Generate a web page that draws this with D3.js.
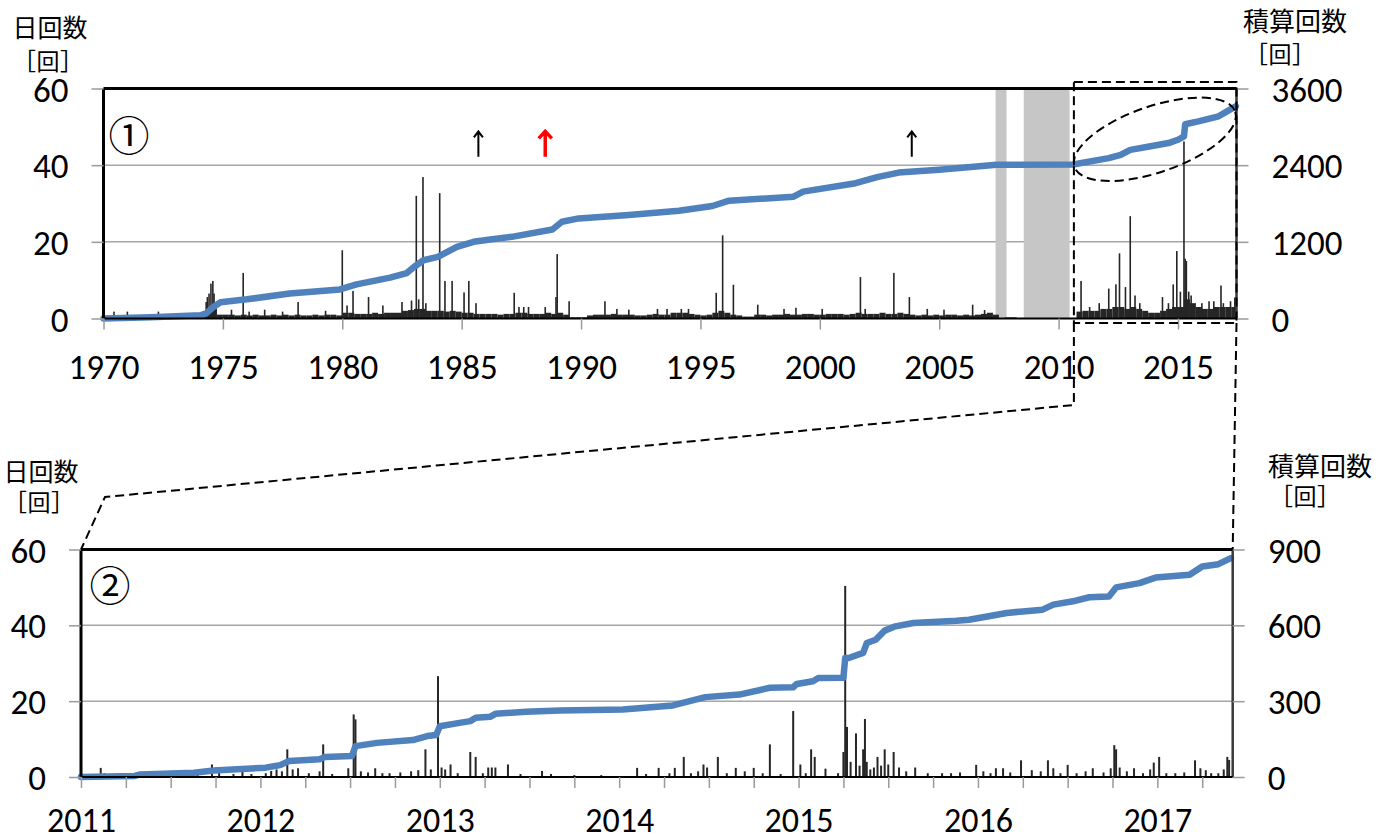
<!DOCTYPE html>
<html><head><meta charset="utf-8">
<script src="https://cdn.jsdelivr.net/npm/d3@7"></script>
<style>
body{margin:0;background:#fff}
text{font-family:Carlito,Lato,"Liberation Sans",sans-serif;fill:#000}
.jp{font-family:"Noto Sans CJK JP",sans-serif}
</style>
</head><body>
<svg id="c" width="1388" height="840"></svg>
<script>
// ---------------- DATA ----------------
// Panel ① : 1970-2017
const yearTicks1 = [1970,1975,1980,1985,1990,1995,2000,2005,2010,2015];
const leftTicks = [0,20,40,60];
const rightTicks1 = [0,1200,2400,3600];
const rightTicks2 = [0,300,600,900];
const yearTicks2 = [2011,2012,2013,2014,2015,2016,2017];

// no-observation periods (shaded)
const gapStart = [2007.36, 2008.54];
const gapEnd   = [2007.82, 2010.46];

// quarterly background level of daily counts, 1970Q1 ... 2017Q2
const floor1 = [
 0,0,0,0, 0,0,0,0, 0,0,0,0, 0,0,0,0.3,
 0.5,1.5,2.5,1, 1,1,0.8,1, 0.8,1,0.8,0.8, 1,0.8,1,0.8, 1,0.8,0.8,1, 0.8,1,1,0.8,
 1.5,1.5,1.2,1.2, 1.2,1.5,1.2,1.5, 1.5,1.5,2,2.2, 2.5,2.5,2,2, 2,1.8,2,1.8,
 1.5,1.5,1.2,1.2, 1.2,1.2,1,1.2, 1.2,1.5,1.5,1.2, 1.2,1.2,1.5,1.2, 1.5,1,0.3,0.3,
 0.3,0.8,1,1, 1,1.2,1,1, 1,0.8,0.8,1, 1.2,1,1,1.5, 1.5,1.5,1.2,1,
 0.8,1,1.5,2, 1.5,1,0.8,0.5, 0.5,1,1,0.8, 1,1,1.2,1, 1,1.2,1.2,1,
 1,1.2,1.2,1.2, 1,1.2,1.5,1.2, 1.2,1.2,1.5,1.2, 1.2,1.5,1.2,1, 0.8,1,0.8,1,
 0.8,1,1,0.8, 1,0.8,1,1.2, 1.5,1,0,0.3, 0.3,0,0,0, 0,0,0,0,
 0,0,0,1.8, 2,2,2,2.5, 2.5,3,3,2.5, 3,2.5,2,1.5, 1.5,2,2.5,3,
 3,5,4,3, 2.5,2.5,3,3, 3,3
];
// individual daily spikes [year, count]
const spikes1 = [
 [1970.44,1.8],[1971.0,1.8],[1972.3,1.8],
 [1974.3,4.3],[1974.35,5.6],[1974.42,6.5],[1974.5,9.1],[1974.58,9.8],[1974.63,6.5],[1974.7,3],
 [1975.36,2.3],[1975.85,11.9],[1976.1,1.8],[1976.75,2.3],[1977.5,1.8],[1978.15,4.3],[1979.3,2],
 [1980.0,17.8],[1980.2,3.4],[1980.45,7.2],[1981.1,5.6],[1981.7,3.4],[1982.5,4.3],[1982.9,4.7],
 [1983.1,32],[1983.2,5],[1983.38,36.9],[1983.5,4],[1984.08,32.7],[1984.3,9.8],[1984.6,9.8],
 [1985.1,6.8],[1985.3,9.8],[1985.6,4],
 [1987.2,6.7],[1987.4,3],[1987.6,3],[1987.8,3],[1988.5,3],[1988.95,5.6],[1989.0,16.8],[1989.5,4.5],
 [1991.0,4.5],[1991.5,2.5],[1992.0,2.3],[1993.2,2.5],[1993.6,2.5],[1994.2,2.5],[1994.5,2.5],
 [1995.66,6.7],[1995.93,21.7],[1996.38,8.8],[1997.4,3.6],[1998.5,2.5],[1999.0,2.8],[2000.1,2.5],
 [2001.7,10.8],[2001.9,2.5],[2003.1,11.9],[2003.75,5.6],[2004.5,2.5],[2005.2,2.3],[2006.4,3.6],[2006.9,2.2],
 [2010.94,9.8],[2011.3,3],[2011.7,4],[2012.1,7.8],[2012.4,8.9],[2012.55,17],[2012.8,8.2],[2013.0,26.7],
 [2013.2,6],[2013.4,4],[2014.35,5.6],[2014.6,4],[2014.8,8.9],[2014.95,17.6],[2015.1,7],[2015.25,46.2],
 [2015.3,15.6],[2015.35,15],[2015.45,7],[2015.55,6],[2016.0,4],[2016.3,4.5],[2016.5,4.5],[2016.8,8.6],
 [2016.9,4],[2017.2,4.5],[2017.38,5.5]
];
// cumulative count [year, total]
const cum1 = [
 [1970,0],[1972,20],[1974.05,50],[1974.3,80],[1974.6,180],[1974.9,255],[1976,300],[1977.8,390],
 [1979.9,455],[1980.6,534],[1982.0,640],[1982.7,712],[1983.0,806],[1983.4,912],[1984.0,964],
 [1984.8,1121],[1985.5,1200],[1986.2,1237],[1987.1,1278],[1988.8,1394],[1989.2,1514],[1989.9,1567],
 [1992.0,1619],[1994.1,1687],[1995.5,1761],[1996.2,1844],[1998.9,1907],[1999.3,1986],[2001.5,2117],
 [2002.4,2212],[2003.3,2284],[2005.0,2327],[2007.4,2405],[2010.6,2410],[2012.1,2510],[2012.6,2560],
 [2013.0,2640],[2013.8,2693],[2014.6,2746],[2015.0,2798],[2015.25,2850],[2015.3,3040],[2015.85,3086],
 [2016.7,3165],[2017.0,3230],[2017.42,3322]
];
// annotation arrows (year positions) and colours
const arrowYears = [1985.7, 1988.5, 2003.85];
const arrowColors = ["#000000", "#ff0000", "#000000"];

// Panel ② : 2011-2017 detail
const bars2 = [
 [2011.02,0.5],[2011.06,0.8],[2011.11,2.4],[2011.13,1],[2011.3,1],[2011.42,0.8],[2011.5,0.8],[2011.58,0.5],
 [2011.65,1],[2011.73,3.3],[2011.77,1.2],[2011.85,0.8],[2011.9,1.5],[2011.95,0.8],
 [2012.03,1],[2012.06,1.6],[2012.09,2],[2012.12,1.5],[2012.15,7.3],[2012.18,2],[2012.21,2.3],[2012.27,1],
 [2012.33,1.5],[2012.35,8.6],[2012.4,0.8],[2012.49,2.3],[2012.52,16.5],[2012.53,15.2],[2012.56,1.5],
 [2012.6,1.2],[2012.64,2.3],[2012.68,1],[2012.72,1],[2012.78,1.2],[2012.84,1.5],[2012.88,1.8],[2012.92,7.3],
 [2012.95,2],[2012.99,26.6],[2013.01,2.5],[2013.03,2],[2013.06,3.3],[2013.1,1],[2013.17,6.6],[2013.2,5.3],
 [2013.24,1],[2013.27,2.5],[2013.29,2.5],[2013.31,2.5],[2013.38,3.3],[2013.45,0.8],[2013.57,1.6],
 [2013.62,0.8],[2013.75,0.5],[2013.9,0.5],
 [2014.1,2.4],[2014.15,0.8],[2014.22,2.4],[2014.28,1],[2014.31,2.4],[2014.36,5.3],[2014.4,1],[2014.44,1.5],
 [2014.47,3.3],[2014.49,2.5],[2014.55,5.3],[2014.6,1],[2014.65,2.4],[2014.7,1.5],[2014.75,2.4],[2014.8,1],
 [2014.84,8.6],[2014.9,0.8],[2014.97,17.4],[2015.01,3.3],[2015.04,1],[2015.07,7.3],[2015.09,5.3],
 [2015.15,2.2],[2015.22,1],[2015.25,6.6],[2015.26,50.4],[2015.27,13.2],[2015.29,4],[2015.32,11.5],
 [2015.34,3],[2015.36,7.3],[2015.37,15.3],[2015.38,4],[2015.4,2],[2015.42,2.5],[2015.44,5.3],[2015.46,3],
 [2015.48,7.3],[2015.5,3.3],[2015.53,6.6],[2015.56,2.5],[2015.6,1.5],[2015.65,2.5],[2015.72,1],[2015.8,1],
 [2015.85,1],[2015.9,1.2],[2015.99,3.2],
 [2016.03,1.5],[2016.07,1],[2016.1,2.3],[2016.14,2.3],[2016.18,1.2],[2016.24,4.4],[2016.3,1.8],[2016.35,1.5],
 [2016.39,4.4],[2016.42,2.3],[2016.46,1],[2016.5,3.2],[2016.55,1],[2016.6,1.5],[2016.64,2.3],[2016.7,1.2],
 [2016.74,2.3],[2016.76,8.4],[2016.77,7.3],[2016.79,2.5],[2016.83,1.5],[2016.87,2.3],[2016.92,1],[2016.96,2],
 [2016.98,3.8],[2017.01,5.3],[2017.05,1],[2017.1,1],[2017.15,1.2],[2017.21,4.4],[2017.24,2.3],[2017.27,1.8],
 [2017.3,1],[2017.34,1],[2017.37,2],[2017.39,5.3],[2017.4,4.5]
];
const cum2 = [
 [2011.0,0],[2011.3,4],[2011.33,10],[2011.63,17],[2011.74,26],[2012.03,37],[2012.11,47],[2012.16,63],
 [2012.33,70],[2012.36,79],[2012.51,83],[2012.53,122],[2012.65,135],[2012.85,146],[2012.93,162],
 [2012.98,166],[2013.0,201],[2013.11,214],[2013.17,221],[2013.2,234],[2013.28,238],[2013.31,250],
 [2013.48,258],[2013.67,263],[2014.02,267],[2014.3,283],[2014.48,316],[2014.67,326],[2014.84,353],
 [2014.97,355],[2014.99,368],[2015.08,379],[2015.11,392],[2015.25,393],[2015.26,471],[2015.28,471],
 [2015.36,491],[2015.38,530],[2015.43,543],[2015.48,579],[2015.54,596],[2015.64,609],[2015.88,618],
 [2015.95,622],[2016.06,636],[2016.16,649],[2016.25,655],[2016.36,662],[2016.42,682],[2016.53,695],
 [2016.62,711],[2016.73,714],[2016.77,750],[2016.9,767],[2016.99,789],[2017.18,800],[2017.25,833],
 [2017.34,842],[2017.41,866]
];
const zoomStart = 2010.64;   // start of the enlarged period
const ellipseCenter = [2014.03, 2805];

// ---------------- DRAWING ----------------
const svg = d3.select("#c");
svg.append("rect").attr("width",1388).attr("height",840).attr("fill","#fff");

const BAR = "#262626", LINE = "#4f81bd", GRID = "#a6a6a6";

function panel(o){
  const g = svg.append("g");
  const x = o.x, y = o.y, yr = o.yr;
  const [xl, xr] = x.range(), [yb, yt] = y.range();
  g.selectAll(".grid").data(leftTicks.filter(d=>d>0 && d<60)).join("line")
    .attr("x1",xl).attr("x2",xr).attr("y1",d=>y(d)).attr("y2",d=>y(d))
    .attr("stroke",GRID).attr("stroke-width",1.5);
  if (o.draw) o.draw(g);
  g.selectAll(".sp").data(o.bars).join("rect")
    .attr("x",d=>x(d[0])-o.bw/2).attr("width",o.bw)
    .attr("y",d=>y(d[1])).attr("height",d=>yb-y(d[1])).attr("fill",BAR);
  g.append("path").datum(o.cum)
    .attr("d", d3.line().x(d=>x(d[0])).y(d=>yr(d[1])))
    .attr("fill","none").attr("stroke",LINE).attr("stroke-width",6.5)
    .attr("stroke-linejoin","round").attr("stroke-linecap","round");
  g.append("line").attr("x1",xr).attr("x2",xr).attr("y1",yt).attr("y2",yb).attr("stroke","#3a3a3a").attr("stroke-width",2.5);
  g.append("line").attr("x1",xl).attr("x2",xr).attr("y1",yt).attr("y2",yt).attr("stroke","#000").attr("stroke-width",3);
  g.append("line").attr("x1",xl).attr("x2",xl).attr("y1",yt).attr("y2",yb).attr("stroke","#000").attr("stroke-width",3);
  g.append("line").attr("x1",xl).attr("x2",xr).attr("y1",yb).attr("y2",yb).attr("stroke","#000").attr("stroke-width",2);

  const styleAxis = (sel, fs)=>{
    sel.select(".domain").remove();
    sel.selectAll(".tick line").attr("stroke","#9a9a9a").attr("stroke-width",1.5);
    sel.selectAll(".tick text").style("font-size",fs).attr("fill","#000");
  };
  const la = g.append("g").attr("transform",`translate(${xl},0)`)
    .call(d3.axisLeft(y).tickValues(leftTicks).tickSize(12).tickFormat(d3.format("d")));
  styleAxis(la,"35px"); la.selectAll(".tick text").attr("x",-35).attr("dy","0.36em");
  const ra = g.append("g").attr("transform",`translate(${xr},0)`)
    .call(d3.axisRight(yr).tickValues(o.rticks).tickSize(12).tickFormat(d3.format("d")));
  styleAxis(ra,"35px"); ra.selectAll(".tick text").attr("x",35).attr("dy","0.36em");
  const ba = g.append("g").attr("transform",`translate(0,${yb})`)
    .call(d3.axisBottom(x).tickValues(o.xticks).tickSize(11).tickFormat(o.xfmt));
  styleAxis(ba, o.xfs); ba.selectAll(".tick text").attr("y",o.xlabY).attr("dy",0);
  return g;
}

// Panel ①
const x1 = d3.scaleLinear().domain([1970, 2017.45]).range([103.5, 1236.5]);
const y1 = d3.scaleLinear().domain([0,60]).range([318.5, 88.5]);
const y1r = d3.scaleLinear().domain([0,3600]).range([318.5, 88.5]);
const floorBars = floor1.map((v,i)=>[1970+i*0.25, v]);

panel({x:x1, y:y1, yr:y1r, bars:spikes1, bw:1.6, cum:cum1, rticks:rightTicks1,
  xticks:yearTicks1, xfmt:d3.format("d"), xlabY:60, xfs:"35px",
  draw:(g)=>{
    g.selectAll(".gap").data(gapStart).join("rect")
      .attr("x",(d)=>x1(d)).attr("width",(d,i)=>x1(gapEnd[i])-x1(d))
      .attr("y",y1(60)).attr("height",y1(0)-y1(60)).attr("fill","#c6c6c6");
    g.selectAll(".fl").data(floorBars.filter(d=>d[1]>0)).join("rect")
      .attr("x",d=>x1(d[0])).attr("width",d=>Math.min(x1(d[0]+0.25),x1.range()[1])-x1(d[0]))
      .attr("y",d=>y1(d[1])).attr("height",d=>y1(0)-y1(d[1])).attr("fill",BAR);
  }});

// Panel ②
const x2 = d3.scaleLinear().domain([2011, 2017.42]).range([81, 1232.7]);
const y2 = d3.scaleLinear().domain([0,60]).range([777, 549.5]);
const y2r = d3.scaleLinear().domain([0,900]).range([777, 549.5]);
const quarterTicks = d3.range(2011, 2017.42, 0.25);
panel({x:x2, y:y2, yr:y2r, bars:bars2, bw:2, cum:cum2, rticks:rightTicks2,
  xticks:quarterTicks, xlabY:55, xfs:"34px",
  xfmt:d=> (Number.isInteger(d) && yearTicks2.includes(d)) ? String(d) : ""});

// ---------------- ANNOTATIONS ----------------
const jp = (t,x,y,size)=>svg.append("text").attr("class","jp").attr("x",x).attr("y",y)
  .attr("text-anchor","middle").style("font-size",size+"px").text(t);
// unit label "［回］" with bracket characters placed apart as in the original
const unit = (cx,y)=>{ jp("［",cx-24,y,24); jp("回",cx,y,23); jp("］",cx+24,y,24); };
jp("日回数",50,37,25); unit(48,70);
jp("積算回数",1295,31,26); unit(1280,63);
jp("日回数",41,481,25); unit(39,511);
jp("積算回数",1320,476,26); unit(1305,505);

svg.append("text").attr("class","jp").attr("x",129).attr("y",133).attr("text-anchor","middle")
  .attr("dominant-baseline","central").style("font-size","41px").text("①");
svg.append("text").attr("class","jp").attr("x",110).attr("y",583).attr("text-anchor","middle")
  .attr("dominant-baseline","central").style("font-size","41px").text("②");

arrowYears.forEach((yr,i)=>{
  const xa = x1(yr), yb = y1(42.2), yt = y1(48.8);
  const red = arrowColors[i] !== "#000000";
  const hw = red ? 6.5 : 4.5, hl = red ? 7 : 6, sw = red ? 3.5 : 2;
  svg.append("path").attr("d",`M${xa},${yb}V${yt+1}M${xa-hw},${yt+hl}L${xa},${yt}L${xa+hw},${yt+hl}`)
    .attr("fill","none").attr("stroke",arrowColors[i]).attr("stroke-width",sw);
});

const dash = {"stroke":"#000","stroke-width":2,"stroke-dasharray":"9,5","fill":"none"};
const applyDash = s=>{Object.entries(dash).forEach(([k,v])=>s.attr(k,v)); return s;};
const zx = x1(zoomStart), rx = x1.range()[1];
applyDash(svg.append("rect").attr("x",zx).attr("y",y1(60)-6.5).attr("width",rx-zx).attr("height",(y1(0)+4.5)-(y1(60)-6.5)));
applyDash(svg.append("path").attr("d",
  `M${zx},${y1(0)+4.5}L${zx},405L${x2(2011)+24},497L${x2(2011)},${y2(60)}`));
applyDash(svg.append("path").attr("d",`M${rx},${y1(0)+4.5}L${x2.range()[1]},${y2(60)}`));

applyDash(svg.append("ellipse").attr("cx",0).attr("cy",0).attr("rx",85).attr("ry",33)
  .attr("transform",`translate(${x1(ellipseCenter[0])},${y1r(ellipseCenter[1])}) rotate(-19)`));
</script>
</body></html>
